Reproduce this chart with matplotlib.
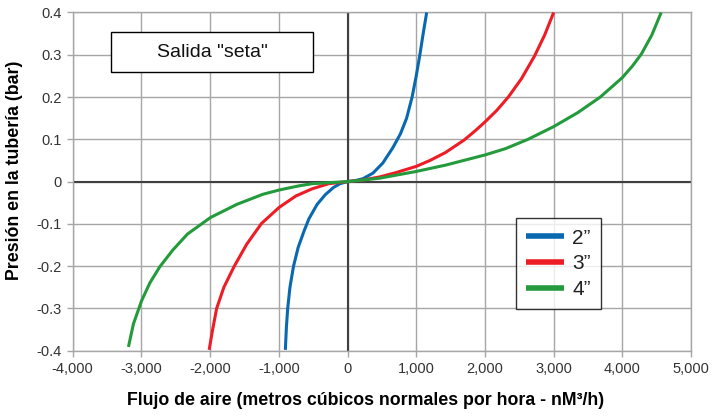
import matplotlib
matplotlib.use('Agg')
import matplotlib.pyplot as plt
from matplotlib.patches import Rectangle
from matplotlib.ticker import FuncFormatter

# flujo (nM3/h) y presion (bar), por diametro de tuberia
flow_2in = [-905, -890, -871, -838, -786, -719, -633, -562, -443, -324, -205, -110, 0,
            106, 226, 370, 514, 659, 770, 860, 940, 1000, 1053, 1101, 1152]
pres_2in = [-0.398, -0.345, -0.300, -0.250, -0.200, -0.156, -0.117, -0.088, -0.054, -0.031, -0.014, -0.005, 0,
            0.002, 0.007, 0.020, 0.044, 0.080, 0.113, 0.150, 0.200, 0.250, 0.300, 0.350, 0.400]

flow_3in = [-2014, -1967, -1905, -1800, -1648, -1467, -1252, -995, -752, -514, -276, 0,
            230, 466, 700, 1000, 1200, 1428, 1694, 1850, 2000, 2170, 2340, 2530, 2722, 2870, 3000]
pres_3in = [-0.398, -0.353, -0.300, -0.250, -0.200, -0.148, -0.099, -0.061, -0.034, -0.017, -0.005, 0,
            0.004, 0.011, 0.021, 0.036, 0.050, 0.069, 0.098, 0.119, 0.141, 0.168, 0.200, 0.243, 0.297, 0.347, 0.400]

flow_4in = [-3189, -3117, -2998, -2878, -2735, -2544, -2329, -1995, -1613, -1232, -998, -706, -516, 0,
            466, 1000, 1428, 2000, 2300, 2627, 3000, 3350, 3679, 4000, 4150, 4278, 4430, 4565]
pres_4in = [-0.391, -0.337, -0.282, -0.240, -0.202, -0.162, -0.124, -0.085, -0.054, -0.030, -0.020, -0.010, -0.005, 0,
            0.008, 0.024, 0.039, 0.063, 0.078, 0.100, 0.130, 0.163, 0.200, 0.246, 0.274, 0.302, 0.347, 0.400]

labels = ['2\u201d', '3\u201d', '4\u201d']
colors = ['#0868b0', '#ee1c25', '#239a3b']

x_ticks = [-4000, -3000, -2000, -1000, 0, 1000, 2000, 3000, 4000, 5000]
y_ticks = [-0.4, -0.3, -0.2, -0.1, 0, 0.1, 0.2, 0.3, 0.4]

plt.rcParams['font.family'] = ['Liberation Sans', 'DejaVu Sans']

fig = plt.figure(figsize=(7.15, 4.19), dpi=100)
ax = fig.add_axes([0.1017, 0.163, 0.8648, 0.8072])

grid_c = '#a6a6a6'
ax.set_xlim(-4000, 5000)
ax.set_ylim(-0.4, 0.4)
ax.set_xticks(x_ticks)
ax.set_yticks(y_ticks)
ax.grid(True, color=grid_c, linewidth=1.0)
ax.set_axisbelow(True)
for s in ax.spines.values():
    s.set_color(grid_c)
    s.set_linewidth(1.0)
ax.axhline(0, color='#404040', linewidth=1.5, zorder=1)
ax.axvline(0, color='#404040', linewidth=1.5, zorder=1)

ax.xaxis.set_major_formatter(FuncFormatter(lambda v, p: '{:,.0f}'.format(v)))
ax.yaxis.set_major_formatter(FuncFormatter(lambda v, p: '0' if abs(v) < 1e-9 else '{:.1f}'.format(v)))
ax.tick_params(colors=grid_c, labelcolor='#333333', labelsize=10.5, length=4, width=1, pad=4)

for fl, pr, lab, col in zip([flow_2in, flow_3in, flow_4in], [pres_2in, pres_3in, pres_4in], labels, colors):
    ax.plot(fl, pr, color=col, linewidth=2.2, label=lab, zorder=3,
            solid_capstyle='butt', solid_joinstyle='round')

# caja con el titulo
ax.add_patch(Rectangle((0.062, 0.824), 0.327, 0.118, transform=ax.transAxes,
                       facecolor='white', edgecolor='black', linewidth=1.0, zorder=4))
ax.text(0.2255, 0.883, 'Salida "seta"', transform=ax.transAxes, ha='center', va='center',
        fontsize=14, color='#111111', zorder=5)

leg = ax.legend(loc='upper left', bbox_to_anchor=(0.717, 0.3915), fontsize=15, frameon=True,
                fancybox=False, edgecolor='black', handlelength=1.8, handletextpad=0.4,
                labelspacing=0.32, borderpad=0.5, borderaxespad=0)
leg.get_frame().set_linewidth(1.0)
for h in leg.get_lines():
    h.set_linewidth(4.0)
for t in leg.get_texts():
    t.set_color('#222222')

fig.text(15 / 715, 1 - 170 / 419, 'Presi\u00f3n en la tuber\u00eda (bar)', rotation=90,
         ha='center', va='center', fontsize=12.8, fontweight='bold')
fig.text(366 / 715, 1 - 400 / 419, 'Flujo de aire (metros c\u00fabicos normales por hora - nM\u00b3/h)',
         ha='center', va='center', fontsize=12.8, fontweight='bold')

fig.savefig('out.png', dpi=100)
